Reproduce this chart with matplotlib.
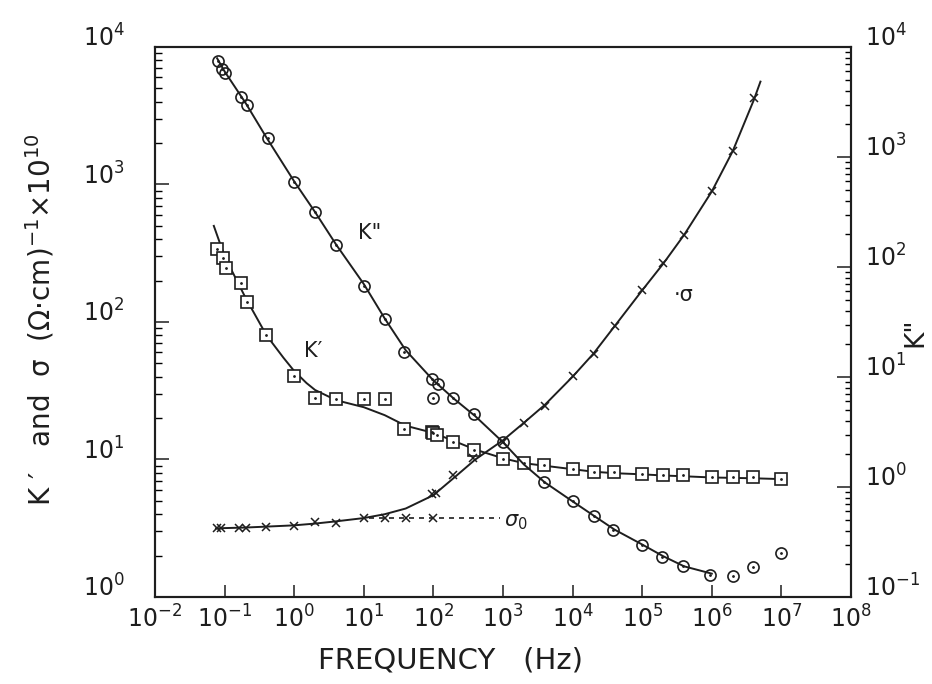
import matplotlib
matplotlib.use("Agg")
import matplotlib.pyplot as plt
import numpy as np

# K' (squares, left axis)
kp_freq = [0.077, 0.096, 0.105, 0.17, 0.21, 0.4, 1, 2, 4, 10, 20, 38, 95, 100, 114,
           193, 387, 1000, 2000, 3900, 1e4, 2e4, 3.9e4, 1e5, 2e5, 3.8e5, 1e6, 2e6, 3.9e6, 1e7]
kp_val = [340, 290, 246, 191, 140, 80, 40.5, 27.9, 27.5, 27.5, 27.5, 16.6, 15.9, 15.5, 15.1,
          13.3, 11.7, 10.1, 9.4, 9.1, 8.5, 8.15, 8.15, 7.9, 7.7, 7.7, 7.4, 7.4, 7.4, 7.2]
kp_fit_freq = [0.07, 0.1, 0.2, 0.4, 0.7, 1, 1.5, 2, 4, 10, 20, 40, 100, 200, 400, 1000,
               2000, 4000, 1e4, 2e4, 4e4, 1e5, 2e5, 4e5, 1e6, 2e6, 4e6, 1e7]
kp_fit = [500, 300, 150, 80, 55, 44, 36, 32, 27, 24, 21, 17.6, 15.6, 13.6, 11.8, 10.2,
          9.4, 9.0, 8.5, 8.15, 7.95, 7.8, 7.65, 7.55, 7.4, 7.35, 7.3, 7.2]

# K'' (circles, right axis)
kpp_freq = [0.081, 0.092, 0.1, 0.17, 0.21, 0.42, 1, 2, 4, 10, 20, 38, 96, 115, 100, 193,
            387, 1000, 3900, 1e4, 2e4, 3.8e4, 1e5, 1.9e5, 3.8e5, 9.5e5, 2e6, 3.9e6, 1e7]
kpp_val = [7500, 6300, 5800, 3530, 2970, 1480, 596, 314, 158, 67, 33.5, 17, 9.6, 8.6, 6.5, 6.5,
           4.6, 2.54, 1.1, 0.75, 0.545, 0.41, 0.30, 0.23, 0.19, 0.16, 0.156, 0.186, 0.253]
kpp_fit_freq = [0.078, 0.1, 0.2, 0.4, 1, 2, 4, 10, 20, 40, 100, 200, 400, 1000, 2000, 4000,
                1e4, 2e4, 4e4, 1e5, 2e5, 4e5, 1e6]
kpp_fit = [7900, 6000, 3100, 1500, 600, 315, 160, 70, 34, 17.5, 9.3, 6.3, 4.4, 2.55, 1.6,
           1.1, 0.74, 0.55, 0.41, 0.30, 0.235, 0.19, 0.163]

# sigma (crosses, left axis)
sig_freq = [0.077, 0.09, 0.16, 0.2, 0.4, 1, 2, 4, 10, 20, 40, 100, 96, 110, 193, 374, 1000,
            2000, 4000, 1e4, 2e4, 4e4, 1e5, 2e5, 4e5, 1e6, 2e6, 4e6]
sig_val = [3.16, 3.16, 3.19, 3.19, 3.25, 3.28, 3.53, 3.47, 3.74, 3.74, 3.74, 3.74, 5.6, 5.7,
           7.7, 10.2, 13.5, 18.5, 24.5, 40.5, 59, 93, 171, 267, 430, 897, 1760, 4240]
sig_fit_freq = [0.075, 0.1, 0.2, 0.4, 1, 2, 4, 10, 20, 40, 100, 200, 400, 1000, 2000, 4000,
                1e4, 2e4, 4e4, 1e5, 2e5, 4e5, 1e6, 2e6, 4e6, 5e6]
sig_fit = [3.15, 3.17, 3.2, 3.25, 3.32, 3.42, 3.55, 3.75, 4.0, 4.4, 5.5, 7.4, 10.0, 13.8,
           18.5, 25, 40, 59, 93, 170, 265, 430, 890, 1750, 4100, 5600]
sig0_freq = [12, 900]
sig0_val = [3.74, 3.74]

ink = "#1e1e1e"
plt.rcParams['font.family'] = ['DejaVu Sans']

fig = plt.figure(figsize=(9.32, 6.84), dpi=100)
ax = fig.add_axes([0.1663, 0.1272, 0.7468, 0.8041])
ax2 = ax.twinx()

# fitted curves
ax.plot(kp_fit_freq, kp_fit, color=ink, lw=1.4)
ax.plot(sig_fit_freq, sig_fit, color=ink, lw=1.4)
ax.plot(sig0_freq, sig0_val, color=ink, lw=1.2, ls=(0, (3, 3)))
ax2.plot(kpp_fit_freq, kpp_fit, color=ink, lw=1.4)

# data points
ax.plot(kp_freq, kp_val, ls='none', marker='s', ms=8, mfc='white', mec=ink, mew=1.2)
ax.plot(kp_freq, kp_val, ls='none', marker='.', ms=2, color=ink)
ax.plot(sig_freq, sig_val, ls='none', marker='x', ms=6, mec=ink, mew=1.1)
ax2.plot(kpp_freq, kpp_val, ls='none', marker='o', ms=8, mfc='none', mec=ink, mew=1.2)
ax2.plot(kpp_freq, kpp_val, ls='none', marker='.', ms=2, color=ink)

for a in (ax, ax2):
    a.set_xscale('log')
    a.set_yscale('log')
ax.set_xlim(1e-2, 1e8)
ax.set_ylim(1, 1e4)
ax2.set_ylim(1e-1, 1e4)

ax.set_xticks([10.0 ** e for e in range(-2, 9)])
ax.set_xticklabels([r'$10^{%d}$' % e for e in range(-2, 9)])
ax.set_yticks([10.0 ** e for e in range(0, 5)])
ax.set_yticklabels([r'$10^{%d}$' % e for e in range(0, 5)])
ax2.set_yticks([10.0 ** e for e in range(-1, 5)])
ax2.set_yticklabels([r'$10^{%d}$' % e for e in range(-1, 5)])

ax.tick_params(axis='x', which='major', direction='in', length=9, width=1.1,
               labelsize=17, pad=6, top=False, colors=ink)
ax.tick_params(axis='x', which='minor', direction='in', length=4.5, width=1.0, top=False)
ax.tick_params(axis='y', which='major', direction='in', length=10, width=1.1,
               labelsize=17, pad=22, right=False, colors=ink)
ax.tick_params(axis='y', which='minor', direction='in', length=5, width=1.0, right=False)
ax2.tick_params(axis='y', which='major', direction='in', length=10, width=1.1,
                labelsize=17, pad=10, colors=ink)
ax2.tick_params(axis='y', which='minor', direction='in', length=4, width=1.0)

for lab in ax.get_yticklabels() + ax2.get_yticklabels():
    lab.set_va('baseline')

for a in (ax, ax2):
    for s in a.spines.values():
        s.set_linewidth(1.5)
        s.set_color(ink)

# curve labels
ax.text(12.3, 444, 'K"', fontsize=15, color=ink, ha='center', va='center')
ax.text(1.9, 62, "K′", fontsize=15, color=ink, ha='center', va='center')
ax.text(3.9e5, 157, "·σ", fontsize=15, color=ink, ha='center', va='center')
ax.text(1.55e3, 3.5, r'$\sigma_0$', fontsize=15, color=ink, ha='center', va='center')

fig.text(40 / 932, 1 - 320 / 684, r"K ′   and  σ  (Ω·cm)$^{-1}$×10$^{10}$", rotation=90,
         fontsize=20, color=ink, ha='center', va='center')
fig.text(915 / 932, 1 - 332 / 684, 'K"', rotation=90, fontsize=19, color=ink,
         ha='center', va='center')
fig.text(451 / 932, 1 - 660 / 684, "FREQUENCY   (Hz)", fontsize=21, color=ink,
         ha='center', va='center')

fig.savefig("out.png", dpi=100)
